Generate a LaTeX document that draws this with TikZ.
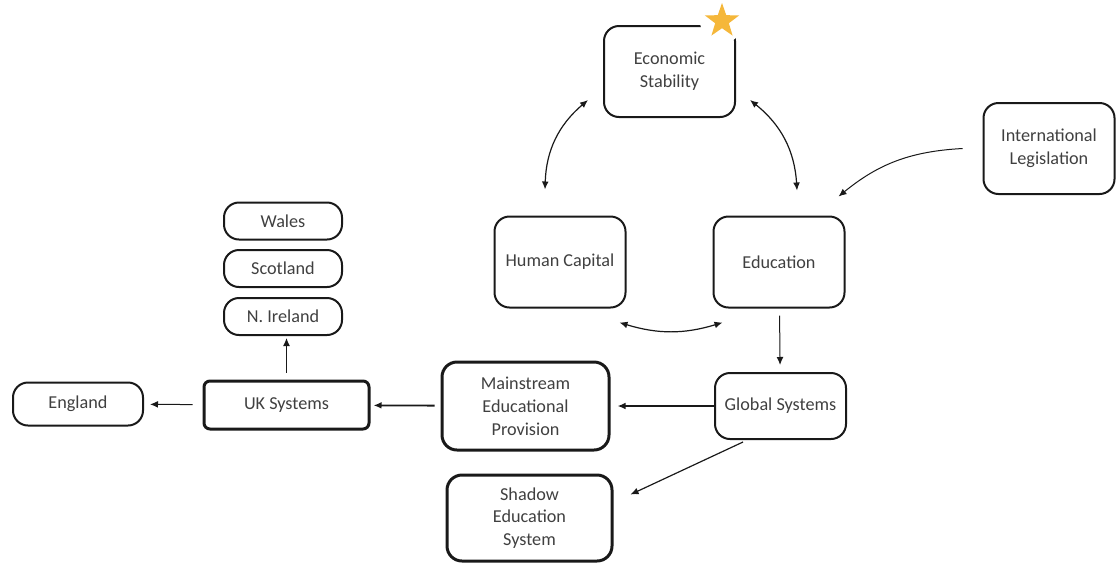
\documentclass[tikz,border=0pt]{standalone}
\usepackage{fontspec}
\setmainfont{Carlito}
\usetikzlibrary{arrows.meta, positioning, shapes.geometric}
\definecolor{starcol}{HTML}{F5B73A}
\definecolor{txtcol}{HTML}{404040}

\begin{document}
\begin{tikzpicture}[
      x=0.5pt, y=-0.5pt, on grid, node distance=24pt,
      >={Latex[length=4pt,width=3.4pt]},
      every node/.style={font=\fontsize{9.1}{11.4}\selectfont, text=txtcol},
      box/.style={draw=black!90, line width=1pt, rounded corners=7.5pt, align=center,
        minimum width=65.5pt, minimum height=45.5pt},
      thickbox/.style={box, line width=1.5pt},
      pill/.style={box, minimum width=59pt, minimum height=18.5pt},
      link/.style={->, line width=0.5pt, black!90},
      dlink/.style={<->, line width=0.6pt, black!90}
      ]
      \useasboundingbox (0,0) rectangle (1117,563);

      % cycle
      \node[box]                       (econ)   at (669.5,71.5) {Economic\\Stability};
      \node[box]                       (edu)    at (779,262)    {Education};
      \node[box, left=109.5pt of edu]  (hcap)                   {Human Capital};
      \node[box]                       (intl)   at (1049,148.5) {International\\Legislation};
      \node[circle, fill=white, minimum size=22pt, inner sep=0pt] (starbg) at (722,21) {};
      \node[star, star points=5, star point ratio=2.5, minimum size=18pt, inner sep=0pt,
            fill=starcol] (star) at (starbg) {};

      % systems
      \node[box, minimum height=33pt]  (global) at (780.5,406)  {Global Systems};
      \node[thickbox, minimum width=83.5pt, minimum height=44pt] (main)   at (525.5,406) {Mainstream\\Educational\\Provision};
      \node[thickbox, minimum width=82.5pt, minimum height=43pt] (shadow) at (529.5,518) {Shadow\\Education\\System};
      \node[thickbox, rounded corners=3pt, minimum width=82.5pt, minimum height=24pt] (uk) at (286.5,405) {UK Systems};
      \node[pill, minimum width=65pt, minimum height=21.5pt] (eng) at (78,404) {England};
      \node[pill]                      (nire)   at (283,316.5)  {N. Ireland};
      \node[pill, above=of nire]       (scot)                   {Scotland};
      \node[pill, above=23.75pt of scot] (wales)                {Wales};

      \draw[dlink] ([xshift=-7.5pt,yshift=9pt]econ.south west) to[bend right=24] ([xshift=-7.5pt,yshift=13pt]hcap.north);
      \draw[dlink] ([xshift=7pt,yshift=9pt]econ.south east) to[bend left=24] ([xshift=9pt,yshift=12.5pt]edu.north);
      \draw[dlink] ([xshift=-3.5pt,yshift=-7pt]hcap.south east) to[bend right=17] ([xshift=5pt,yshift=-7pt]edu.south west);
      \draw[link] ([xshift=-10pt]intl.west) to[bend right=18] ([xshift=-3.5pt,yshift=9.5pt]edu.north east);

      \draw[link, shorten <=3.5pt, shorten >=3.5pt] (edu) -- (global);
      \draw[link, line width=0.9pt, shorten >=3.5pt] (global) -- (main);
      \draw[link, line width=0.9pt, shorten <=3pt, shorten >=1.5pt] (main) -- (uk);
      \draw[link, shorten <=5pt, shorten >=3pt] (uk) -- (eng);
      \draw[link, shorten <=3.5pt, shorten >=1pt] (uk.north) -- (uk.north |- nire.south);
      \draw[link, line width=0.6pt] ([xshift=14.5pt,yshift=-1pt]global.south west) -- ([xshift=8.5pt,yshift=-10.5pt]shadow.north east);
    \end{tikzpicture}
\end{document}
